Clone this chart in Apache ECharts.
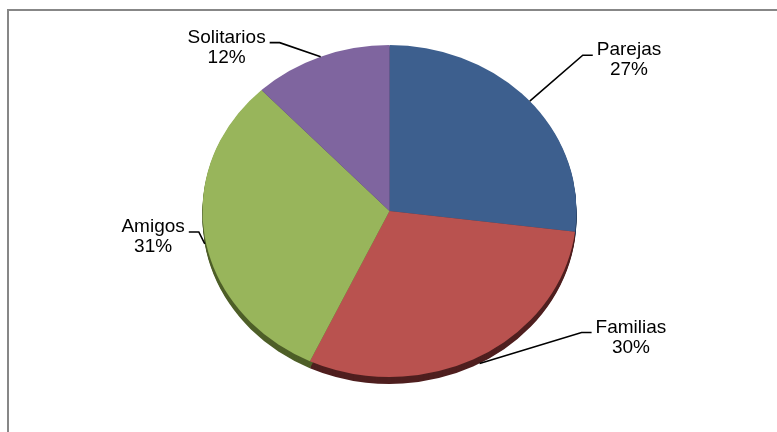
<!DOCTYPE html>
<html>
<head>
<meta charset="utf-8">
<script src="https://cdn.jsdelivr.net/npm/echarts@6/dist/echarts.min.js"></script>
<style>
html,body{margin:0;padding:0;background:#fff;}
#chart{width:777px;height:432px;}
</style>
</head>
<body>
<div id="chart"></div>
<script>
// ---- data ----
const categories = ['Parejas', 'Familias', 'Amigos', 'Solitarios'];
const values = [27, 30, 31, 12];

// ---- styles / layout ----
const topColors = ['#3D5F8E', '#B9524F', '#98B55B', '#7F659F'];
const sideColors = ['#243A58', '#4F1F1F', '#4E5F28', '#4A3A60'];
const labelElbow = [[53, -46], [102, -31], [-6, -12], [-41, -14]];
const pie = { cx: 389.5, cy: 211, rx: 187, ry: 166, depth: 7 };
const FONT = '19px "Liberation Sans", Arial, sans-serif';

const total = values.reduce((a, b) => a + b, 0);
const cum = [];
values.reduce((acc, v, i) => { cum[i] = acc; return acc + v; }, 0);

function angles(i) {
  const s = -Math.PI / 2 + cum[i] / total * Math.PI * 2;
  const e = s + values[i] / total * Math.PI * 2;
  return [s, e];
}

const measureCtx = document.createElement('canvas').getContext('2d');
measureCtx.font = FONT;

const chart = echarts.init(document.getElementById('chart'), null, { renderer: 'canvas' });

const data = values.map((v, i) => ({ value: v, name: categories[i] }));

function sideItem(params, api) {
  const i = params.dataIndex;
  const [s, e] = angles(i);
  const children = [];
  for (let d = pie.depth; d >= 1; d--) {
    children.push({
      type: 'sector',
      x: pie.cx, y: pie.cy + d, scaleY: pie.ry / pie.rx,
      shape: { cx: 0, cy: 0, r: pie.rx, r0: 0, startAngle: s, endAngle: e, clockwise: true },
      style: { fill: sideColors[i] }
    });
  }
  return { type: 'group', children };
}

function topItem(params, api) {
  const i = params.dataIndex;
  const [s, e] = angles(i);
  return {
    type: 'sector',
    x: pie.cx, y: pie.cy, scaleY: pie.ry / pie.rx,
    shape: { cx: 0, cy: 0, r: pie.rx, r0: 0, startAngle: s, endAngle: e, clockwise: true },
    style: { fill: topColors[i] }
  };
}

function labelItem(params, api) {
  const i = params.dataIndex;
  const [s, e] = angles(i);
  const m = (s + e) / 2;
  let ax = pie.cx + pie.rx * Math.cos(m);
  let ay = pie.cy + pie.ry * Math.sin(m);
  if (Math.sin(m) > 0.05) ay += pie.depth;
  const ex = ax + labelElbow[i][0];
  const ey = ay + labelElbow[i][1];
  const side = Math.cos(m) >= 0 ? 1 : -1;
  const hx = ex + side * 10;
  const pct = Math.round(api.value(0) / total * 100) + '%';
  const txt = categories[i] + '\n' + pct;
  const w = Math.max(measureCtx.measureText(categories[i]).width, measureCtx.measureText(pct).width);
  const tx = hx + side * (4 + w / 2);
  return {
    type: 'group',
    children: [
      {
        type: 'polyline',
        shape: { points: [[ax, ay], [ex, ey], [hx, ey]] },
        style: { stroke: '#000', lineWidth: 1.6, fill: null }
      },
      {
        type: 'text',
        x: tx, y: ey + 5,
        style: {
          text: txt, font: FONT, fill: '#000',
          align: 'center', verticalAlign: 'middle', lineHeight: 20
        }
      }
    ]
  };
}

chart.setOption({
  animation: false,
  backgroundColor: '#fff',
  graphic: [{
    type: 'rect', z: 0,
    shape: { x: 8, y: 10, width: 820, height: 480 },
    style: { fill: 'none', stroke: '#878787', lineWidth: 2 }
  }],
  series: [
    { type: 'custom', coordinateSystem: 'none', z: 1, silent: true, data: data, renderItem: sideItem },
    { type: 'custom', coordinateSystem: 'none', z: 2, silent: true, data: data, renderItem: topItem },
    { type: 'custom', coordinateSystem: 'none', z: 3, silent: true, data: data, renderItem: labelItem }
  ]
});
</script>
</body>
</html>
